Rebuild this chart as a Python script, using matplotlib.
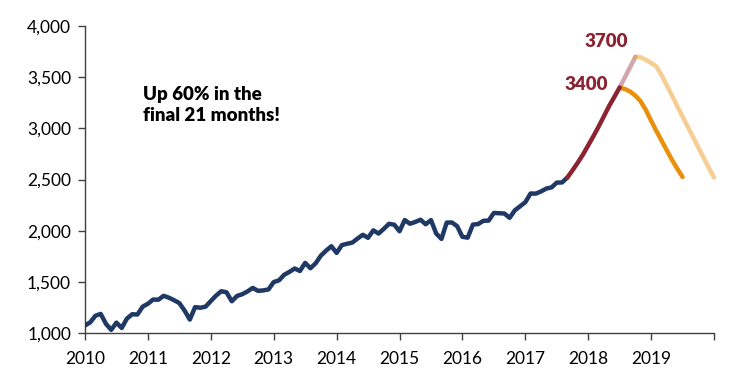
import numpy as np
import pandas as pd
import matplotlib
matplotlib.use("Agg")
import matplotlib.pyplot as plt

# S&P 500 monthly close, Jan 2010 - Sep 2017
sp500 = [
    1073.9, 1104.5, 1169.4, 1186.7, 1089.4, 1030.7, 1101.6, 1049.3, 1141.2, 1183.3, 1180.6, 1257.6,
    1286.1, 1327.2, 1325.8, 1363.6, 1345.2, 1320.6, 1292.3, 1218.9, 1131.4, 1253.3, 1247.0, 1257.6,
    1312.4, 1365.7, 1408.5, 1397.9, 1310.3, 1362.2, 1379.3, 1406.6, 1440.7, 1412.2, 1416.2, 1426.2,
    1498.1, 1514.7, 1569.2, 1597.6, 1630.7, 1606.3, 1685.7, 1633.0, 1681.6, 1756.5, 1805.8, 1848.4,
    1782.6, 1859.5, 1872.3, 1884.0, 1923.6, 1960.2, 1930.7, 2003.4, 1972.3, 2018.1, 2067.6, 2058.9,
    1995.0, 2104.5, 2067.9, 2085.5, 2107.4, 2063.1, 2103.8, 1972.2, 1920.0, 2079.4, 2080.4, 2043.9,
    1940.2, 1932.2, 2059.7, 2065.3, 2097.0, 2098.9, 2173.6, 2171.0, 2168.3, 2126.2, 2198.8, 2238.8,
    2278.9, 2363.6, 2362.7, 2384.2, 2411.8, 2423.4, 2470.3, 2471.7, 2519.4,
]
sp_start = "2010-01-01"

# projected melt-up, Sep 2017 - Jul 2018
rise = [2519, 2590, 2665, 2745, 2835, 2925, 3020, 3120, 3220, 3310, 3400]
rise_start = "2017-09-01"

# bridge 3400 -> 3700, Jul 2018 - Oct 2018
bridge = [3400, 3500, 3600, 3700]
bridge_start = "2018-07-01"

# decline from 3400, Jul 2018 - Jul 2019
fall_low = [3400, 3385, 3360, 3320, 3265, 3180, 3075, 2975, 2880, 2785, 2690, 2605, 2525]
fall_low_start = "2018-07-01"

# decline from 3700, Oct 2018 - Jan 2020
fall_high = [3700, 3695, 3670, 3640, 3605, 3520, 3420, 3320, 3215, 3115, 3015, 2915, 2815, 2715, 2615, 2520]
fall_high_start = "2018-10-01"

years = list(range(2010, 2021))
year_labels = [str(y) for y in range(2010, 2020)] + [""]
y_ticks = [1000, 1500, 2000, 2500, 3000, 3500, 4000]


def to_dec(start, n):
    d = pd.date_range(start, periods=n, freq="MS")
    return d.year + (d.month - 1) / 12.0


plt.rcParams["font.family"] = ["Lato", "DejaVu Sans"]

fig = plt.figure(figsize=(7.34, 3.87), dpi=100)
ax = fig.add_axes([0.1158, 0.1395, 0.857, 0.793])

lw = 3.2
ax.plot(to_dec(sp_start, len(sp500)), sp500, color="#1f3864", lw=lw,
        solid_joinstyle="round", solid_capstyle="round", zorder=4)
ax.plot(to_dec(rise_start, len(rise)), rise, color="#8b2332", lw=lw,
        solid_capstyle="round", zorder=5)
ax.plot(to_dec(bridge_start, len(bridge)), bridge, color="#8b2332", lw=lw,
        alpha=0.4, solid_capstyle="round", zorder=3)
ax.plot(to_dec(fall_low_start, len(fall_low)), fall_low, color="#e8900a", lw=lw,
        solid_capstyle="round", zorder=4)
ax.plot(to_dec(fall_high_start, len(fall_high)), fall_high, color="#f0a53a", lw=lw,
        alpha=0.55, solid_capstyle="round", zorder=3, clip_on=False)

ax.set_xlim(2010, 2020)
ax.set_ylim(1000, 4000)
ax.set_xticks(years)
ax.set_xticklabels(year_labels)
ax.set_yticks(y_ticks)
ax.set_yticklabels([f"{v:,}" for v in y_ticks])
ax.tick_params(axis="both", labelsize=12.5, direction="out", length=5,
               color="#404040", width=1)
ax.tick_params(axis="x", pad=8)
ax.tick_params(axis="y", pad=5)
for s in ["top", "right"]:
    ax.spines[s].set_visible(False)
for s in ["left", "bottom"]:
    ax.spines[s].set_color("#404040")
    ax.spines[s].set_linewidth(1)

ax.text(2010.92, 3230, "Up 60% in the\nfinal 21 months!", fontsize=13.5,
        fontweight="heavy", ha="left", va="center", linespacing=1.3)
ax.text(2018.64, 3850, "3700", fontsize=13.5, fontweight="heavy",
        color="#8b2332", ha="right", va="center")
ax.text(2018.32, 3430, "3400", fontsize=13.5, fontweight="heavy",
        color="#8b2332", ha="right", va="center")

fig.savefig("out.png", dpi=100)
